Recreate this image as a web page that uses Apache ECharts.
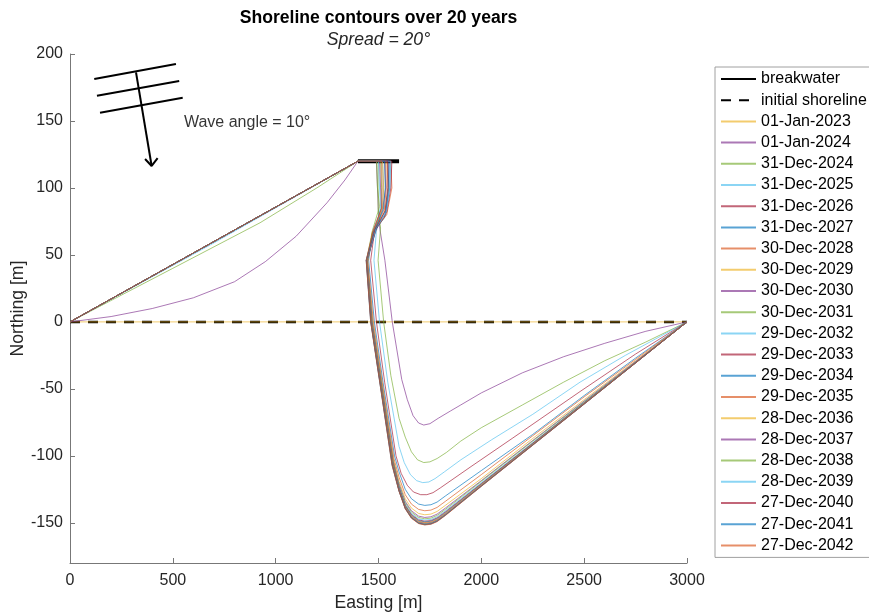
<!DOCTYPE html>
<html>
<head>
<meta charset="utf-8">
<script src="https://cdn.jsdelivr.net/npm/echarts@6/dist/echarts.min.js"></script>
<style>html,body{margin:0;padding:0;background:#fff}#c{width:869px;height:613px}</style>
</head>
<body>
<div id="c"></div>
<script>
// ---- data ----
const xTicks = [0, 500, 1000, 1500, 2000, 2500, 3000];
const yTicks = [-150, -100, -50, 0, 50, 100, 150, 200];
const breakwater = [[1400, 120], [1600, 120]];
const initialShoreline = [[0, 0], [3000, 0]];
const dates = ['01-Jan-2023','01-Jan-2024','31-Dec-2024','31-Dec-2025','31-Dec-2026','31-Dec-2027','30-Dec-2028','30-Dec-2029','30-Dec-2030','30-Dec-2031','29-Dec-2032','29-Dec-2033','29-Dec-2034','29-Dec-2035','28-Dec-2036','28-Dec-2037','28-Dec-2038','28-Dec-2039','27-Dec-2040','27-Dec-2041','27-Dec-2042'];
const s2023 = [[0,0],[3000,0]];
const s2024a = [[0,0],[200,4],[400,10],[600,18],[800,30],[950,45],[1100,64],[1250,89],[1337,106],[1400,120],[1490,120],[1495,100],[1500,82],[1507,69],[1531,46],[1567,0],[1613,-43],[1640,-58],[1668,-70],[1695,-75.5],[1720,-77],[1750,-76],[1790,-72],[1850,-66.5],[1900,-62],[2000,-53],[2200,-38],[2400,-26],[2600,-16],[2800,-7],[3000,0]];
const s2024b = [[0,0],[500,40],[924,74],[1200,100],[1400,120],[1498,120],[1498,100],[1498,84],[1510,70],[1498,46],[1525,0],[1560,-40],[1600,-72],[1630,-86],[1660,-97],[1690,-103],[1720,-105],[1750,-104.5],[1785,-102],[1830,-97.5],[1900,-89],[2000,-79],[2200,-62],[2400,-45],[2600,-29],[2800,-15],[3000,0]];
const s2025 = [[0,0],[700,59],[1400,120],[1520,120],[1525,100],[1520,85],[1490,68],[1478,46],[1505,0],[1545,-45],[1600,-93],[1625,-105],[1655,-114],[1685,-118.5],[1715,-120],[1745,-119.5],[1775,-117],[1820,-112],[1900,-103],[2050,-88],[2250,-69],[2480,-45],[2700,-25],[3000,0]];
const s2026 = [[0,0],[1400,120],[1545,120],[1550,100],[1535,80],[1480,67],[1462,46],[1490,0],[1530,-45],[1585,-100],[1610,-113],[1640,-122],[1670,-127],[1705,-129],[1735,-129],[1765,-127.5],[1800,-124],[1950,-108],[2150,-87],[2480,-52],[2750,-24],[3000,0]];
const s2027 = [[0,0],[1400,120],[1555,120],[1555,100],[1530,78],[1470,66],[1452,46],[1480,0],[1522,-45],[1578,-100],[1600,-112],[1630,-125],[1660,-132],[1695,-136],[1725,-137],[1755,-136.5],[1785,-134.5],[1825,-130],[2000,-111],[2250,-84],[2500,-55],[2750,-27],[3000,0]];
const s2028 = [[0,0],[1400,120],[1560,120],[1565,100],[1540,80],[1470,67],[1448,45],[1475,0],[1518,-45],[1575,-102],[1600,-116],[1630,-129],[1660,-136],[1695,-140],[1725,-141],[1755,-140.5],[1785,-138.5],[1825,-134],[2000,-114],[2250,-85],[2500,-56],[2750,-28],[3000,0]];
const s2029 = [[0,0],[1400,120],[1540,120],[1548,100],[1530,82],[1475,68],[1447,45],[1472,0],[1516,-45],[1573,-103],[1600,-119],[1630,-132],[1660,-139],[1695,-143],[1725,-144],[1755,-143.5],[1785,-141.5],[1825,-137],[2000,-117],[2250,-87],[2500,-58],[2750,-29],[3000,0]];
const s2030 = [[0,0],[1400,120],[1530,120],[1535,100],[1520,84],[1480,70],[1446,45],[1470,0],[1514,-45],[1572,-104],[1600,-121],[1630,-134],[1660,-141],[1695,-145],[1725,-146],[1755,-145.5],[1785,-143.5],[1825,-139],[2000,-118.5],[2250,-88.5],[2500,-59],[2750,-29.5],[3000,0]];
const s2031 = [[0,0],[1400,120],[1510,120],[1515,100],[1512,85],[1485,70],[1445,45],[1469,0],[1513,-45],[1571,-104],[1600,-122],[1630,-135],[1660,-142],[1695,-146],[1725,-147],[1755,-146.5],[1785,-144.5],[1825,-140],[2000,-119],[2250,-89],[2500,-59.5],[2750,-30],[3000,0]];
const s2032 = [[0,0],[1400,120],[1500,120],[1505,100],[1510,86],[1490,71],[1444,45],[1468,0],[1512,-45],[1570,-105],[1600,-123],[1630,-136],[1660,-143],[1695,-147],[1725,-148],[1755,-147.5],[1785,-145.5],[1825,-141],[2000,-120],[2250,-90],[2500,-60],[2750,-30],[3000,0]];
const s2033 = [[0,0],[1400,120],[1565,120],[1560,100],[1540,82],[1495,72],[1444,46],[1467,0],[1511,-45],[1570,-105],[1600,-123.8],[1630,-136.8],[1660,-143.8],[1695,-147.8],[1725,-148.8],[1755,-148.3],[1785,-146.3],[1825,-141.8],[2000,-120.7],[2250,-90.5],[2500,-60.3],[2750,-30.2],[3000,0]];
const s2034 = [[0,0],[1400,120],[1550,120],[1548,100],[1535,83],[1490,70],[1443,46],[1466,0],[1510,-45],[1569,-105.5],[1600,-124.3],[1630,-137.3],[1660,-144.3],[1695,-148.3],[1725,-149.3],[1755,-148.8],[1785,-146.8],[1825,-142.3],[2000,-121],[2250,-90.8],[2500,-60.5],[2750,-30.3],[3000,0]];
const s2035 = [[0,0],[1400,120],[1535,120],[1538,100],[1528,84],[1485,70],[1443,46],[1465,0],[1509,-45],[1569,-105.5],[1600,-124.8],[1630,-137.8],[1660,-144.8],[1695,-148.8],[1725,-149.8],[1755,-149.3],[1785,-147.3],[1825,-142.8],[2000,-121.4],[2250,-91],[2500,-60.7],[2750,-30.4],[3000,0]];
const s2036 = [[0,0],[1400,120],[1520,120],[1525,100],[1520,85],[1480,69],[1443,46],[1465,0],[1509,-45],[1569,-106],[1600,-125.2],[1630,-138.2],[1660,-145.2],[1695,-149.2],[1725,-150.2],[1755,-149.7],[1785,-147.7],[1825,-143.2],[2000,-121.7],[2250,-91.3],[2500,-60.8],[2750,-30.4],[3000,0]];
const s2037 = [[0,0],[1400,120],[1505,120],[1510,100],[1515,85],[1475,69],[1442,46],[1464,0],[1508,-45],[1568,-106],[1600,-125.5],[1630,-138.5],[1660,-145.5],[1695,-149.5],[1725,-150.5],[1755,-150],[1785,-148],[1825,-143.5],[2000,-122],[2250,-91.5],[2500,-61],[2750,-30.5],[3000,0]];
const s2038 = [[0,0],[1400,120],[1490,120],[1495,100],[1505,86],[1470,68],[1442,46],[1464,0],[1508,-45],[1568,-106.3],[1600,-125.8],[1630,-138.8],[1660,-145.8],[1695,-149.8],[1725,-150.8],[1755,-150.3],[1785,-148.3],[1825,-143.8],[2000,-122.2],[2250,-91.7],[2500,-61.1],[2750,-30.6],[3000,0]];
const s2039 = [[0,0],[1400,120],[1560,120],[1555,100],[1538,82],[1488,70],[1441,46],[1463,0],[1507,-45],[1567,-106.5],[1600,-126],[1630,-139],[1660,-146],[1695,-150],[1725,-151],[1755,-150.5],[1785,-148.5],[1825,-144],[2000,-122.4],[2250,-91.8],[2500,-61.2],[2750,-30.6],[3000,0]];
const s2040 = [[0,0],[1400,120],[1545,120],[1545,100],[1532,83],[1483,69],[1441,46],[1463,0],[1507,-45],[1567,-106.7],[1600,-126.2],[1630,-139.2],[1660,-146.2],[1695,-150.2],[1725,-151.2],[1755,-150.7],[1785,-148.7],[1825,-144.2],[2000,-122.5],[2250,-91.9],[2500,-61.3],[2750,-30.6],[3000,0]];
const s2041 = [[0,0],[1400,120],[1530,120],[1533,100],[1524,84],[1478,68],[1440,46],[1462,0],[1506,-45],[1566,-107],[1600,-126.4],[1630,-139.4],[1660,-146.4],[1695,-150.4],[1725,-151.4],[1755,-150.9],[1785,-148.9],[1825,-144.4],[2000,-122.7],[2250,-92],[2500,-61.4],[2750,-30.7],[3000,0]];
const s2042 = [[0,0],[1400,120],[1515,120],[1518,100],[1516,85],[1472,67],[1440,46],[1462,0],[1506,-45],[1566,-107.2],[1600,-126.6],[1630,-139.6],[1660,-146.6],[1695,-150.6],[1725,-151.6],[1755,-151.1],[1785,-149.1],[1825,-144.6],[2000,-122.8],[2250,-92.1],[2500,-61.4],[2750,-30.7],[3000,0]];
const contours = [s2023,s2024a,s2024b,s2025,s2026,s2027,s2028,s2029,s2030,s2031,s2032,s2033,s2034,s2035,s2036,s2037,s2038,s2039,s2040,s2041,s2042];
// wave symbol (data coordinates)
const waveCrest1 = [[118,181.3],[515,192.5]];
const waveCrest2 = [[131,168.9],[531,179.9]];
const waveCrest3 = [[146,156.2],[548,167.4]];
const waveShaft = [[321,186.3],[397,116.4]];
const waveHead = [[365,121.6],[397,116.4],[426,122.2]];
const waveLabelPos = [[554,148.5]];
const waveLabel = 'Wave angle = 10°';

// ---- chart ----
const palette = ['#EDB120','#7E2F8E','#77AC30','#4DBEEE','#A2142F','#0072BD','#D95319'];
const FONT = '"Liberation Sans", Arial, Helvetica, sans-serif';
const chart = echarts.init(document.getElementById('c'), null, {renderer: 'canvas'});
const series = [];
series.push({name: 'breakwater', type: 'line', data: breakwater, symbol: 'none', lineStyle: {color: '#000', width: 4}, itemStyle: {color: '#000'}, z: 2});
series.push({name: 'initial shoreline', type: 'line', data: initialShoreline, symbol: 'none', lineStyle: {color: '#000', width: 2.5, type: [10, 8]}, itemStyle: {color: '#000'}, z: 2});
contours.forEach((d, i) => {
  const col = palette[i % palette.length];
  series.push({name: dates[i], type: 'line', data: d, symbol: 'none',
    lineStyle: {color: col, width: 1, opacity: 0.65}, itemStyle: {color: col, opacity: 0.65}, z: 3});
});
[waveCrest1, waveCrest2, waveCrest3, waveShaft, waveHead].forEach(d => {
  series.push({type: 'line', data: d, symbol: 'none', silent: true, lineStyle: {color: '#000', width: 2}, z: 4});
});
series.push({type: 'scatter', data: waveLabelPos, symbolSize: 0, silent: true,
  label: {show: true, position: 'right', distance: 0, formatter: waveLabel, color: '#000', fontSize: 16, fontFamily: FONT}});

chart.setOption({
  animation: false,
  backgroundColor: '#fff',
  grid: {left: 70, right: 182, top: 54, bottom: 50, containLabel: false, outerBoundsMode: 'none'},
  graphic: [
    {type: 'text', x: 378.5, y: 18, style: {text: 'Shoreline contours over 20 years', fontSize: 17.6, fontWeight: 'bold', fontFamily: FONT, fill: '#000', align: 'center', verticalAlign: 'middle'}},
    {type: 'text', x: 378.5, y: 40, style: {text: 'Spread = 20°', fontSize: 17.6, fontStyle: 'italic', fontFamily: FONT, fill: '#262626', align: 'center', verticalAlign: 'middle'}}
  ],
  legend: {
    orient: 'vertical', left: 715, top: 67, padding: [4, 4, 4, 5],
    itemWidth: 35, itemHeight: 16, itemGap: 5.2,
    borderColor: '#a0a0a0', borderWidth: 1, backgroundColor: '#fff',
    selectedMode: false,
    itemStyle: {opacity: 0},
    textStyle: {fontSize: 16, fontFamily: FONT, color: '#000'},
    data: ['breakwater', 'initial shoreline'].concat(dates)
  },
  xAxis: {
    type: 'value', min: 0, max: 3000, interval: 500,
    name: 'Easting [m]', nameLocation: 'middle', nameGap: 31,
    nameTextStyle: {fontSize: 17.6, fontFamily: FONT, color: '#262626'},
    axisLine: {show: true, onZero: false, lineStyle: {color: '#777', width: 1}},
    axisTick: {show: true, inside: true, length: 5, lineStyle: {color: '#777'}},
    axisLabel: {fontSize: 16, fontFamily: FONT, color: '#262626', margin: 10, formatter: v => String(v)},
    splitLine: {show: false}
  },
  yAxis: {
    type: 'value', min: -180, max: 200,
    name: 'Northing [m]', nameLocation: 'middle', nameGap: 43, nameRotate: 90, nameMoveOverlap: false,
    nameTextStyle: {fontSize: 17.6, fontFamily: FONT, color: '#262626'},
    axisLine: {show: true, onZero: false, lineStyle: {color: '#777', width: 1}},
    axisTick: {show: true, inside: true, length: 5, customValues: yTicks, lineStyle: {color: '#777'}},
    axisLabel: {fontSize: 16, fontFamily: FONT, color: '#262626', margin: 7, customValues: yTicks, formatter: v => String(v)},
    splitLine: {show: false}
  },
  series: series
});
</script>
</body>
</html>
